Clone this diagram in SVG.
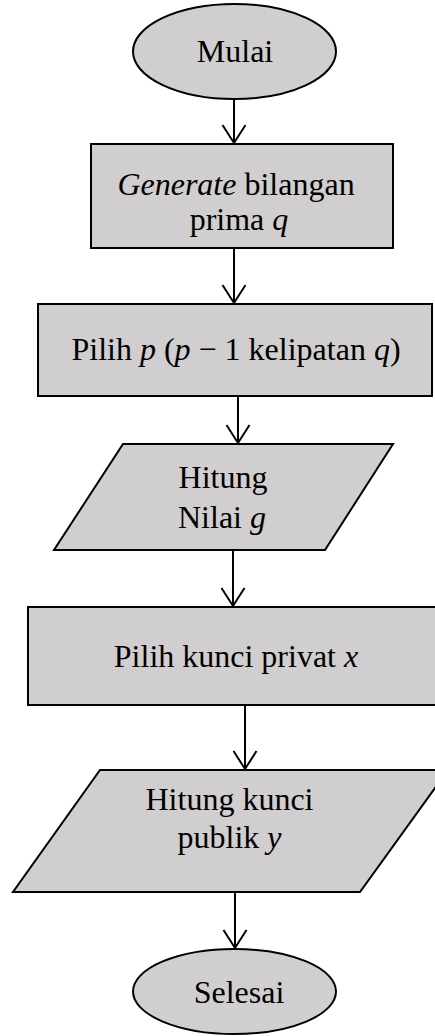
<svg xmlns="http://www.w3.org/2000/svg" width="435" height="1036" viewBox="0 0 435 1036">
  <style>
    .shape { fill: #d0cece; stroke: #000; stroke-width: 2; }
    .lbl { font-family: "Liberation Serif", "Times New Roman", serif; font-size: 32px; fill: #000; text-anchor: middle; }
    .it { font-style: italic; }
    .conn { stroke: #000; stroke-width: 2; fill: none; marker-end: url(#arrow); }
  </style>
  <defs>
    <marker id="arrow" markerUnits="userSpaceOnUse" viewBox="-2 -14 22 28" refX="18" refY="0" markerWidth="22" markerHeight="28" orient="auto">
      <path d="M0,-11.5 L18,0 L0,11.5" fill="none" stroke="#000" stroke-width="2"/>
    </marker>
  </defs>
  <rect width="435" height="1036" fill="#fff"/>

  <g id="connectors">
    <line class="conn" x1="234" y1="99" x2="234" y2="143"/>
    <line class="conn" x1="234" y1="248" x2="234" y2="303"/>
    <line class="conn" x1="238" y1="396" x2="238" y2="443"/>
    <line class="conn" x1="233" y1="550" x2="233" y2="606"/>
    <line class="conn" x1="245" y1="705" x2="245" y2="769"/>
    <line class="conn" x1="235" y1="892" x2="235" y2="948"/>
  </g>

  <g id="mulai">
    <ellipse class="shape" cx="234.5" cy="51.5" rx="101.5" ry="47.5"/>
    <text class="lbl" x="235" y="62">Mulai</text>
  </g>

  <g id="generate">
    <rect class="shape" x="91" y="144" width="302" height="104"/>
    <text class="lbl" x="236" y="195"><tspan class="it">Generate</tspan> bilangan</text>
    <text class="lbl" x="239" y="230">prima <tspan class="it">q</tspan></text>
  </g>

  <g id="pilih-p">
    <rect class="shape" x="38" y="304" width="394" height="92"/>
    <text class="lbl" x="236" y="360">Pilih <tspan class="it">p</tspan> (<tspan class="it">p</tspan> − 1 kelipatan <tspan class="it">q</tspan>)</text>
  </g>

  <g id="hitung-g">
    <polygon class="shape" points="123,444 393,444 325,550 54,550"/>
    <text class="lbl" x="223" y="488">Hitung</text>
    <text class="lbl" x="222" y="528">Nilai <tspan class="it">g</tspan></text>
  </g>

  <g id="pilih-x">
    <rect class="shape" x="28" y="607" width="430" height="98"/>
    <text class="lbl" x="236" y="667">Pilih kunci privat <tspan class="it">x</tspan></text>
  </g>

  <g id="hitung-y">
    <polygon class="shape" points="100,770 448,770 360,892 13,892"/>
    <text class="lbl" x="229.5" y="810">Hitung kunci</text>
    <text class="lbl" x="229.5" y="848">publik <tspan class="it">y</tspan></text>
  </g>

  <g id="selesai">
    <ellipse class="shape" cx="234.5" cy="991.5" rx="101.5" ry="42.5"/>
    <text class="lbl" x="239" y="1003">Selesai</text>
  </g>
</svg>
